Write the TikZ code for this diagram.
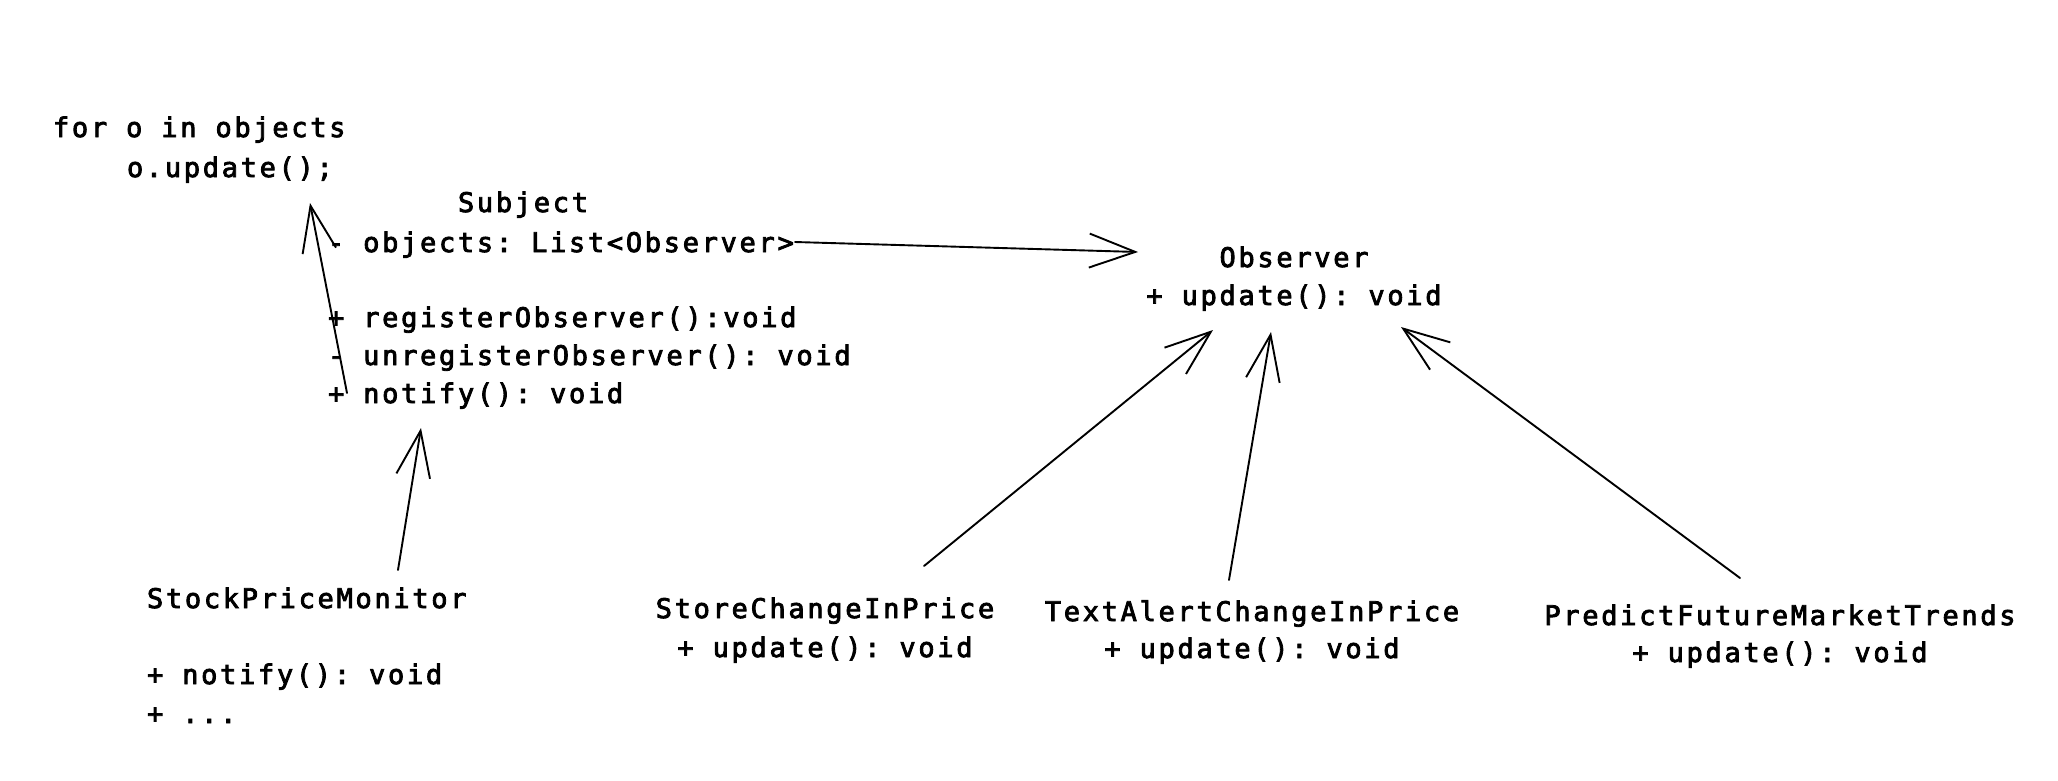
\documentclass[tikz,border=0pt]{standalone}
\usepackage{fontspec}
\setmonofont[LetterSpace=10,FakeBold=3]{DejaVu Sans Mono}
\usetikzlibrary{arrows.meta}
\tikzset{
  txt/.style={font=\ttfamily\fontsize{27}{38}\selectfont, inner sep=0pt, outer sep=0pt},
  arr/.style={line width=1.9pt, line cap=round, -{Straight Barb[length=46pt,width=34pt,line width=1.9pt]}}
}
\begin{document}
\begin{tikzpicture}[x=1pt,y=-1pt]
\fill[white] (0,0) rectangle (2058,780);
\useasboundingbox (0,0) rectangle (2058,780);
% note
\node[txt, anchor=base west] (note1) at (53,137) {for o in objects};
\node[txt, anchor=base west] (note2) at (127,177) {o.update();};
% Subject
\node[txt, anchor=base] (subj) at (523,212) {Subject};
\node[txt, anchor=base west] (sobj) at (328,252) {- objects: List<Observer>};
\node[txt, anchor=base west] (sreg) at (328,327) {+ registerObserver():void};
\node[txt, anchor=base west] (sunr) at (328,365) {- unregisterObserver(): void};
\node[txt, anchor=base west] (snot) at (328,403) {+ notify(): void};
% StockPriceMonitor
\node[txt, anchor=base west] (spm) at (147,608) {StockPriceMonitor};
\node[txt, anchor=base west] (spmn) at (147,684) {+ notify(): void};
\node[txt, anchor=base west] (spmd) at (147,723) {+ ...};
% Observer
\node[txt, anchor=base] (obs) at (1294,267) {Observer};
\node[txt, anchor=base] (obsu) at (1294,305) {+ update(): void};
% concrete observers
\node[txt, anchor=base] (store) at (825,618) {StoreChangeInPrice};
\node[txt, anchor=base] (storeu) at (825,657) {+ update(): void};
\node[txt, anchor=base] (text) at (1252,621) {TextAlertChangeInPrice};
\node[txt, anchor=base] (textu) at (1252,658) {+ update(): void};
\node[txt, anchor=base] (pred) at (1780,625) {PredictFutureMarketTrends};
\node[txt, anchor=base] (predu) at (1780,662) {+ update(): void};
% connector end points
\coordinate (notT) at (347,393);
\coordinate (noteH) at (310,203);
\coordinate (spmT) at (398,570);
\coordinate (notH) at (421,428);
\coordinate (objT) at (795,242);
\coordinate (obsH1) at (1138,252);
\coordinate (storeT) at (924,566);
\coordinate (obsH2) at (1213,330);
\coordinate (textT) at (1229,580);
\coordinate (obsH3) at (1271,332);
\coordinate (predT) at (1740,578);
\coordinate (obsH4) at (1401,327);
% connectors
\draw[arr] (notT) -- (noteH);
\draw[arr] (spmT) -- (notH);
\draw[arr] (objT) -- (obsH1);
\draw[arr] (storeT) -- (obsH2);
\draw[arr] (textT) -- (obsH3);
\draw[arr] (predT) -- (obsH4);
\end{tikzpicture}
\end{document}
